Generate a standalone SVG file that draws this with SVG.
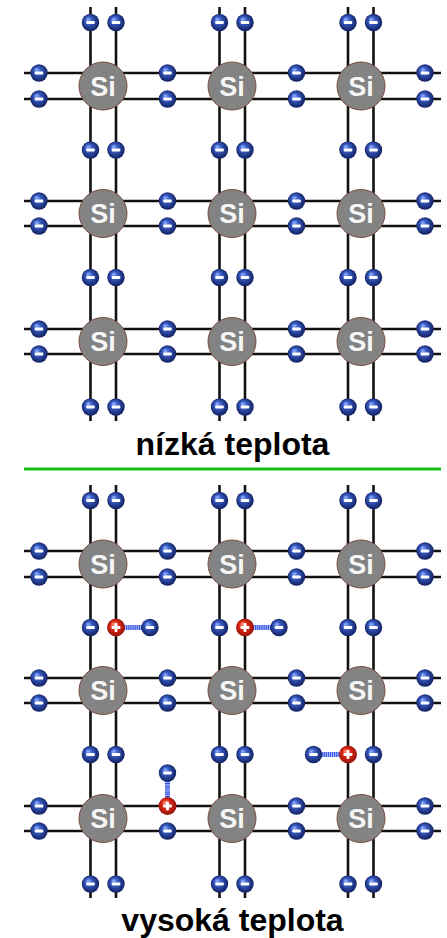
<svg xmlns="http://www.w3.org/2000/svg" xmlns:xlink="http://www.w3.org/1999/xlink" width="447" height="938" viewBox="0 0 447 938">
  <style>
    .bond { stroke: #111; stroke-width: 2.6; fill: none; }
    .si { fill: #838383; stroke: #7a4a40; stroke-width: 1; }
    .si-label { font-family: "Liberation Sans", Arial, sans-serif; font-weight: bold; font-size: 27px; fill: #f6f6f6; text-anchor: middle; }
    .caption { font-family: "Liberation Sans", Arial, sans-serif; font-weight: bold; fill: #000; text-anchor: middle; }
    .spring-bg { stroke: #c4ceff; stroke-width: 5; }
    .spring { stroke: #2f4fe8; stroke-width: 5; stroke-dasharray: 1.2 0.9; }
  </style>
  <defs>
    <radialGradient id="gradE" cx="50%" cy="50%" r="55%" fx="35%" fy="30%">
      <stop offset="0" stop-color="#9ab6ff"/>
      <stop offset="0.35" stop-color="#3a5ec8"/>
      <stop offset="1" stop-color="#0e1a55"/>
    </radialGradient>
    <radialGradient id="gradH" cx="50%" cy="50%" r="55%" fx="35%" fy="30%">
      <stop offset="0" stop-color="#ff9a88"/>
      <stop offset="0.4" stop-color="#e22a18"/>
      <stop offset="1" stop-color="#8a1006"/>
    </radialGradient>
    <!-- valence electron -->
    <g id="e">
      <circle r="8.7" fill="url(#gradE)"/>
      <rect x="-4.3" y="-1.5" width="8.6" height="3" rx="1" fill="#fff"/>
    </g>
    <!-- hole -->
    <g id="h">
      <circle r="9" fill="url(#gradH)"/>
      <rect x="-4.5" y="-1.4" width="9" height="2.8" rx="0.8" fill="#fff"/>
      <rect x="-1.4" y="-4.5" width="2.8" height="9" rx="0.8" fill="#fff"/>
    </g>
    <!-- silicon atom -->
    <g id="si">
      <circle r="24" class="si"/>
      <text y="9.5" class="si-label">Si</text>
    </g>
  </defs>

  <rect width="447" height="938" fill="#fff"/>

  <!-- bonds: low temperature lattice -->
  <g id="bonds-low">
    <line class="bond" x1="90.5" y1="7" x2="90.5" y2="421"/>
    <line class="bond" x1="116" y1="7" x2="116" y2="421"/>
    <line class="bond" x1="219.5" y1="7" x2="219.5" y2="421"/>
    <line class="bond" x1="245" y1="7" x2="245" y2="421"/>
    <line class="bond" x1="348" y1="7" x2="348" y2="421"/>
    <line class="bond" x1="373.5" y1="7" x2="373.5" y2="421"/>
    <line class="bond" x1="24" y1="73" x2="441" y2="73"/>
    <line class="bond" x1="24" y1="99" x2="441" y2="99"/>
    <line class="bond" x1="24" y1="201" x2="441" y2="201"/>
    <line class="bond" x1="24" y1="226" x2="441" y2="226"/>
    <line class="bond" x1="24" y1="329" x2="441" y2="329"/>
    <line class="bond" x1="24" y1="354" x2="441" y2="354"/>
  </g>

  <!-- bonds: high temperature lattice -->
  <g id="bonds-high">
    <line class="bond" x1="90.5" y1="485" x2="90.5" y2="898"/>
    <line class="bond" x1="116" y1="485" x2="116" y2="898"/>
    <line class="bond" x1="219.5" y1="485" x2="219.5" y2="898"/>
    <line class="bond" x1="245" y1="485" x2="245" y2="898"/>
    <line class="bond" x1="348" y1="485" x2="348" y2="898"/>
    <line class="bond" x1="373.5" y1="485" x2="373.5" y2="898"/>
    <line class="bond" x1="24" y1="551" x2="441" y2="551"/>
    <line class="bond" x1="24" y1="577" x2="441" y2="577"/>
    <line class="bond" x1="24" y1="678" x2="441" y2="678"/>
    <line class="bond" x1="24" y1="703" x2="441" y2="703"/>
    <line class="bond" x1="24" y1="806" x2="441" y2="806"/>
    <line class="bond" x1="24" y1="831" x2="441" y2="831"/>
  </g>

  <!-- electron–hole attraction links -->
  <g id="links">
    <line class="spring-bg" x1="124" y1="627.5" x2="142" y2="627.5"/>
    <line class="spring" x1="124" y1="627.5" x2="142" y2="627.5"/>
    <line class="spring-bg" x1="253" y1="627.5" x2="271" y2="627.5"/>
    <line class="spring" x1="253" y1="627.5" x2="271" y2="627.5"/>
    <line class="spring-bg" x1="321.5" y1="754.5" x2="340" y2="754.5"/>
    <line class="spring" x1="321.5" y1="754.5" x2="340" y2="754.5"/>
    <line class="spring-bg" x1="167.5" y1="781" x2="167.5" y2="798"/>
    <line class="spring" x1="167.5" y1="781" x2="167.5" y2="798"/>
  </g>

  <!-- silicon atoms, low temperature -->
  <g id="si-low-r1c1"><use href="#si" x="103" y="86"/></g>
  <g id="si-low-r1c2"><use href="#si" x="232" y="86"/></g>
  <g id="si-low-r1c3"><use href="#si" x="361" y="86"/></g>
  <g id="si-low-r2c1"><use href="#si" x="103" y="213.5"/></g>
  <g id="si-low-r2c2"><use href="#si" x="232" y="213.5"/></g>
  <g id="si-low-r2c3"><use href="#si" x="361" y="213.5"/></g>
  <g id="si-low-r3c1"><use href="#si" x="103" y="341.5"/></g>
  <g id="si-low-r3c2"><use href="#si" x="232" y="341.5"/></g>
  <g id="si-low-r3c3"><use href="#si" x="361" y="341.5"/></g>

  <!-- silicon atoms, high temperature -->
  <g id="si-high-r1c1"><use href="#si" x="103" y="564"/></g>
  <g id="si-high-r1c2"><use href="#si" x="232" y="564"/></g>
  <g id="si-high-r1c3"><use href="#si" x="361" y="564"/></g>
  <g id="si-high-r2c1"><use href="#si" x="103" y="690.5"/></g>
  <g id="si-high-r2c2"><use href="#si" x="232" y="690.5"/></g>
  <g id="si-high-r2c3"><use href="#si" x="361" y="690.5"/></g>
  <g id="si-high-r3c1"><use href="#si" x="103" y="818.5"/></g>
  <g id="si-high-r3c2"><use href="#si" x="232" y="818.5"/></g>
  <g id="si-high-r3c3"><use href="#si" x="361" y="818.5"/></g>

  <!-- electron pairs on vertical bonds, low temperature -->
  <g id="pairs-v-low">
    <use href="#e" x="90.5" y="22.5"/><use href="#e" x="116" y="22.5"/>
    <use href="#e" x="219.5" y="22.5"/><use href="#e" x="245" y="22.5"/>
    <use href="#e" x="348" y="22.5"/><use href="#e" x="373.5" y="22.5"/>
    <use href="#e" x="90.5" y="150"/><use href="#e" x="116" y="150"/>
    <use href="#e" x="219.5" y="150"/><use href="#e" x="245" y="150"/>
    <use href="#e" x="348" y="150"/><use href="#e" x="373.5" y="150"/>
    <use href="#e" x="90.5" y="277.5"/><use href="#e" x="116" y="277.5"/>
    <use href="#e" x="219.5" y="277.5"/><use href="#e" x="245" y="277.5"/>
    <use href="#e" x="348" y="277.5"/><use href="#e" x="373.5" y="277.5"/>
    <use href="#e" x="90.5" y="407"/><use href="#e" x="116" y="407"/>
    <use href="#e" x="219.5" y="407"/><use href="#e" x="245" y="407"/>
    <use href="#e" x="348" y="407"/><use href="#e" x="373.5" y="407"/>
  </g>

  <!-- electron pairs on horizontal bonds, low temperature -->
  <g id="pairs-h-low">
    <use href="#e" x="39" y="73"/><use href="#e" x="39" y="99"/>
    <use href="#e" x="167.5" y="73"/><use href="#e" x="167.5" y="99"/>
    <use href="#e" x="296.5" y="73"/><use href="#e" x="296.5" y="99"/>
    <use href="#e" x="425" y="73"/><use href="#e" x="425" y="99"/>
    <use href="#e" x="39" y="201"/><use href="#e" x="39" y="226"/>
    <use href="#e" x="167.5" y="201"/><use href="#e" x="167.5" y="226"/>
    <use href="#e" x="296.5" y="201"/><use href="#e" x="296.5" y="226"/>
    <use href="#e" x="425" y="201"/><use href="#e" x="425" y="226"/>
    <use href="#e" x="39" y="329"/><use href="#e" x="39" y="354"/>
    <use href="#e" x="167.5" y="329"/><use href="#e" x="167.5" y="354"/>
    <use href="#e" x="296.5" y="329"/><use href="#e" x="296.5" y="354"/>
    <use href="#e" x="425" y="329"/><use href="#e" x="425" y="354"/>
  </g>

  <!-- electron pairs on vertical bonds, high temperature -->
  <g id="pairs-v-high">
    <use href="#e" x="90.5" y="500.5"/><use href="#e" x="116" y="500.5"/>
    <use href="#e" x="219.5" y="500.5"/><use href="#e" x="245" y="500.5"/>
    <use href="#e" x="348" y="500.5"/><use href="#e" x="373.5" y="500.5"/>
    <use href="#e" x="90.5" y="627.5"/>
    <use href="#e" x="219.5" y="627.5"/>
    <use href="#e" x="348" y="627.5"/><use href="#e" x="373.5" y="627.5"/>
    <use href="#e" x="90.5" y="754.5"/><use href="#e" x="116" y="754.5"/>
    <use href="#e" x="219.5" y="754.5"/><use href="#e" x="245" y="754.5"/>
    <use href="#e" x="373.5" y="754.5"/>
    <use href="#e" x="90.5" y="884"/><use href="#e" x="116" y="884"/>
    <use href="#e" x="219.5" y="884"/><use href="#e" x="245" y="884"/>
    <use href="#e" x="348" y="884"/><use href="#e" x="373.5" y="884"/>
  </g>

  <!-- electron pairs on horizontal bonds, high temperature -->
  <g id="pairs-h-high">
    <use href="#e" x="39" y="551"/><use href="#e" x="39" y="577"/>
    <use href="#e" x="167.5" y="551"/><use href="#e" x="167.5" y="577"/>
    <use href="#e" x="296.5" y="551"/><use href="#e" x="296.5" y="577"/>
    <use href="#e" x="425" y="551"/><use href="#e" x="425" y="577"/>
    <use href="#e" x="39" y="678"/><use href="#e" x="39" y="703"/>
    <use href="#e" x="167.5" y="678"/><use href="#e" x="167.5" y="703"/>
    <use href="#e" x="296.5" y="678"/><use href="#e" x="296.5" y="703"/>
    <use href="#e" x="425" y="678"/><use href="#e" x="425" y="703"/>
    <use href="#e" x="39" y="806"/><use href="#e" x="39" y="831"/>
    <use href="#e" x="167.5" y="831"/>
    <use href="#e" x="296.5" y="806"/><use href="#e" x="296.5" y="831"/>
    <use href="#e" x="425" y="806"/><use href="#e" x="425" y="831"/>
  </g>

  <!-- holes left by freed electrons -->
  <g id="hole-1"><use href="#h" x="116" y="627.5"/></g>
  <g id="hole-2"><use href="#h" x="245" y="627.5"/></g>
  <g id="hole-3"><use href="#h" x="348" y="754.5"/></g>
  <g id="hole-4"><use href="#h" x="167.5" y="806"/></g>

  <!-- freed electrons -->
  <g id="free-1"><use href="#e" x="150" y="627.5"/></g>
  <g id="free-2"><use href="#e" x="279" y="627.5"/></g>
  <g id="free-3"><use href="#e" x="313.5" y="754.5"/></g>
  <g id="free-4"><use href="#e" x="167.5" y="773"/></g>

  <!-- captions and divider -->
  <text class="caption" x="232.5" y="455" font-size="32">nízká teplota</text>
  <line x1="24" y1="469" x2="441" y2="469" stroke="#12bf12" stroke-width="3"/>
  <text class="caption" x="232.5" y="930.5" font-size="32">vysoká teplota</text>
</svg>
